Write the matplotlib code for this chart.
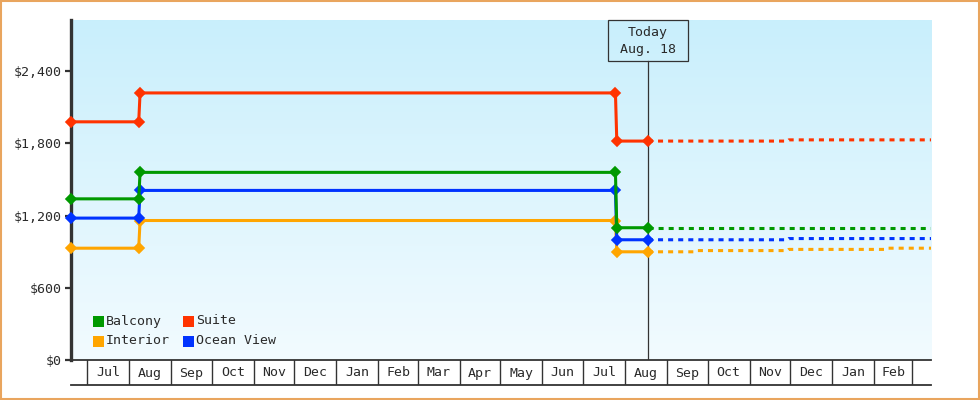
import matplotlib
matplotlib.use("Agg")
import matplotlib.pyplot as plt
import matplotlib.dates as mdates
import numpy as np
import pandas as pd
from matplotlib.patches import Rectangle
from matplotlib.colors import LinearSegmentedColormap
from matplotlib.transforms import Affine2D

# ---------------- data ----------------
hist_dates = ["2023-06-19", "2023-08-08", "2023-08-09", "2024-07-25", "2024-07-26", "2024-08-18"]
interior_hist = [929, 929, 1159, 1159, 899, 899]
ocean_hist = [1179, 1179, 1409, 1409, 999, 999]
balcony_hist = [1339, 1339, 1559, 1559, 1099, 1099]
suite_hist = [1979, 1979, 2219, 2219, 1819, 1819]

future_dates = ["2024-08-18", "2024-09-22", "2024-09-23", "2024-11-29",
                "2024-11-30", "2025-02-09", "2025-02-10", "2025-03-15"]
interior_future = [899, 899, 909, 909, 919, 919, 929, 929]
ocean_future = [999, 999, 999, 999, 1009, 1009, 1009, 1009]
balcony_future = [1099, 1099, 1099, 1099, 1099, 1099, 1099, 1099]
suite_future = [1819, 1819, 1819, 1819, 1829, 1829, 1829, 1829]

series_names = ["Interior", "Ocean View", "Balcony", "Suite"]
series_colors = ["#ffa500", "#0033ff", "#009900", "#ff3300"]

month_labels = ["Jul", "Aug", "Sep", "Oct", "Nov", "Dec", "Jan", "Feb", "Mar", "Apr",
                "May", "Jun", "Jul", "Aug", "Sep", "Oct", "Nov", "Dec", "Jan", "Feb"]
y_ticks = [0, 600, 1200, 1800, 2400]
today_date = "2024-08-18"
today_label = "Today\nAug. 18"
x_start, x_end = "2023-06-19", "2025-03-15"
y_max = 2825

# ---------------- figure ----------------
W, H = 980, 400
FONT = "DejaVu Sans Mono"
TXT = "#2a2a2a"
DARK = "#333333"
fig = plt.figure(figsize=(W / 100, H / 100), dpi=100)
fig.patch.set_facecolor("white")
# pixel coordinates measured from the top-left corner
PX = Affine2D().scale(1 / W, -1 / H).translate(0, 1) + fig.transFigure

ax = fig.add_axes([71 / W, 40 / H, 860 / W, 340 / H])
grad = np.linspace(0, 1, 256).reshape(-1, 1)
cmap = LinearSegmentedColormap.from_list("bg", ["#f2fbff", "#c9effc"])
ax.imshow(grad, extent=[0, 1, 0, 1], transform=ax.transAxes, aspect="auto",
          cmap=cmap, origin="lower", zorder=0, interpolation="bilinear")

hd = pd.to_datetime(hist_dates)
fd = pd.to_datetime(future_dates)
hist_all = [interior_hist, ocean_hist, balcony_hist, suite_hist]
fut_all = [interior_future, ocean_future, balcony_future, suite_future]
for i, (name, col, hv, fv) in enumerate(zip(series_names, series_colors, hist_all, fut_all)):
    ax.plot(fd, fv, color=col, lw=2.2, ls=(0, (1.65, 1.65)), zorder=3 + i)
    ax.plot(hd, hv, color=col, lw=2.2, marker="D", ms=4.8, mew=1.2, mec=col,
            zorder=3 + i, clip_on=False)

xs = mdates.date2num(pd.Timestamp(x_start))
xe = mdates.date2num(pd.Timestamp(x_end))
ax.set_xlim(xs, xe)
ax.set_ylim(0, y_max)

for s in ["top", "right"]:
    ax.spines[s].set_visible(False)
ax.spines["left"].set_linewidth(2.4)
ax.spines["left"].set_color(DARK)
ax.spines["left"].set_zorder(2.5)
ax.spines["bottom"].set_linewidth(1.3)
ax.spines["bottom"].set_color(DARK)
ax.set_xticks([])
ax.set_yticks(y_ticks)
ax.set_yticklabels(["$" + format(v, ",") for v in y_ticks], fontfamily=FONT,
                   fontsize=9.5, color=TXT)
ax.tick_params(axis="y", length=4.5, width=1.6, color=DARK, pad=2)

# today line + box
td = mdates.date2num(pd.Timestamp(today_date))
box_top_px, box_bottom_px = 20, 60.7
ax.axvline(td, ymin=0, ymax=(360 - box_bottom_px) / 340, color=DARK, lw=0.9, zorder=2)
tx_px = ax.transData.transform((td, 0))[0]
box_w = 80
fig.patches.append(Rectangle((tx_px - box_w / 2, box_top_px), box_w, box_bottom_px - box_top_px,
                             transform=PX, fill=False, edgecolor=DARK, lw=0.9, zorder=10))
fig.text(tx_px / W, 1 - 41 / H, today_label, ha="center", va="center",
         fontfamily=FONT, fontsize=9.5, color=TXT, linespacing=1.35)

# legend (manual)
legend_order = ["Balcony", "Suite", "Interior", "Ocean View"]
legend_pos = [(93, 315.5), (183, 315.5), (93, 335.5), (183, 335.5)]
for name, (lx, ly) in zip(legend_order, legend_pos):
    col = series_colors[series_names.index(name)]
    fig.patches.append(Rectangle((lx, ly), 11, 11, transform=PX, facecolor=col,
                                 edgecolor="none", zorder=10))
    fig.text((lx + 13) / W, 1 - (ly + 5.5) / H, name, ha="left", va="center",
             fontfamily=FONT, fontsize=9.5, color=TXT)

# month label row
ax2 = fig.add_axes([71 / W, 15 / H, 860 / W, 25 / H])
ax2.set_xlim(xs, xe)
ax2.set_ylim(0, 1)
ax2.patch.set_visible(False)
for s in ["top", "right", "left"]:
    ax2.spines[s].set_visible(False)
ax2.spines["bottom"].set_linewidth(1.3)
ax2.spines["bottom"].set_color(DARK)
ax2.set_xticks([])
ax2.set_yticks([])
month_starts = pd.date_range("2023-07-01", periods=len(month_labels) + 1, freq="MS")
ms_num = mdates.date2num(month_starts)
for m in ms_num:
    ax2.axvline(m, color=DARK, lw=1.0)
for lab, a, b in zip(month_labels, ms_num[:-1], ms_num[1:]):
    ax2.text((a + b) / 2, 0.48, lab, ha="center", va="center", fontfamily=FONT,
             fontsize=9.5, color=TXT)

# outer border
fig.patches.append(Rectangle((0.75, 0.75), W - 1.5, H - 1.5, transform=PX, fill=False,
                             edgecolor="#e9a55e", lw=1.5, zorder=20))

fig.savefig("out.png", dpi=100)
